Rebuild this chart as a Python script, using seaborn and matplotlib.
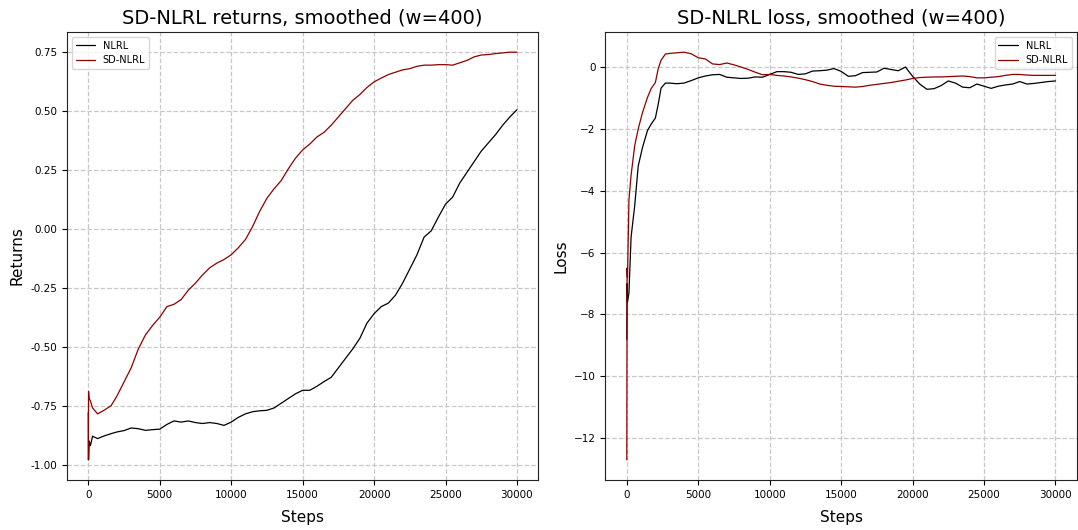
import pandas as pd
import matplotlib
matplotlib.use("Agg")
import matplotlib.pyplot as plt
import seaborn as sns

# steps for the returns panel
steps_ret = [0, 20, 60, 150, 300, 650, 1100, 1600, 2000, 2500, 3000, 3500, 4000, 4500,
             5000, 5500, 6000, 6500, 7000, 7500, 8000, 8500, 9000, 9500, 10000, 10500,
             11000, 11500, 12000, 12500, 13000, 13500, 14000, 14500, 15000, 15500, 16000,
             16500, 17000, 17500, 18000, 18500, 19000, 19500, 20000, 20500, 21000, 21500,
             22000, 22500, 23000, 23500, 24000, 24500, 25000, 25500, 26000, 26500, 27000,
             27500, 28000, 28500, 29000, 29500, 30000]

ret_nlrl = [-0.78, -0.98, -0.90, -0.92, -0.88, -0.89, -0.879, -0.869, -0.862, -0.856, -0.845,
            -0.848, -0.855, -0.852, -0.85, -0.83, -0.815, -0.82, -0.815, -0.822, -0.826,
            -0.822, -0.826, -0.834, -0.82, -0.80, -0.785, -0.776, -0.772, -0.77, -0.76,
            -0.74, -0.72, -0.70, -0.685, -0.685, -0.668, -0.648, -0.63, -0.59, -0.55,
            -0.51, -0.465, -0.40, -0.36, -0.33, -0.315, -0.281, -0.23, -0.17, -0.11,
            -0.035, -0.008, 0.05, 0.105, 0.135, 0.195, 0.24, 0.285, 0.33, 0.365, 0.40,
            0.44, 0.475, 0.506]

ret_sdnlrl = [-0.98, -0.69, -0.72, -0.73, -0.76, -0.785, -0.77, -0.75, -0.71, -0.65, -0.59,
              -0.51, -0.45, -0.41, -0.375, -0.33, -0.32, -0.30, -0.26, -0.23, -0.195,
              -0.165, -0.145, -0.13, -0.11, -0.08, -0.045, 0.01, 0.075, 0.13, 0.17, 0.205,
              0.255, 0.30, 0.335, 0.36, 0.39, 0.41, 0.44, 0.475, 0.51, 0.545, 0.57, 0.60,
              0.624, 0.64, 0.655, 0.665, 0.675, 0.68, 0.69, 0.695, 0.695, 0.697, 0.697,
              0.695, 0.705, 0.715, 0.73, 0.738, 0.74, 0.744, 0.747, 0.75, 0.75]

# steps for the loss panel
steps_loss = [0, 20, 50, 150, 300, 550, 800, 1100, 1450, 1700, 2000, 2200, 2400, 2700,
              3000, 3500, 4000, 4500, 5000, 5500, 6000, 6500, 7000, 7500, 8000, 8500,
              9000, 9500, 10000, 10500, 11000, 11500, 12000, 12500, 13000, 13500, 14000,
              14500, 15000, 15500, 16000, 16500, 17000, 17500, 18000, 18500, 19000, 19500,
              20000, 20500, 21000, 21500, 22000, 22500, 23000, 23500, 24000, 24500, 25000,
              25500, 26000, 26500, 27000, 27500, 28000, 28500, 29000, 29500, 30000]

loss_nlrl = [-8.8, -7.0, -7.6, -7.3, -5.5, -4.5, -3.2, -2.6, -2.05, -1.85, -1.65, -1.2,
             -0.68, -0.52, -0.52, -0.54, -0.52, -0.44, -0.35, -0.29, -0.25, -0.24, -0.33,
             -0.35, -0.37, -0.36, -0.32, -0.33, -0.24, -0.15, -0.15, -0.17, -0.24, -0.22,
             -0.13, -0.12, -0.10, -0.05, -0.14, -0.30, -0.28, -0.18, -0.17, -0.16, -0.04,
             -0.08, -0.12, 0.00, -0.30, -0.55, -0.72, -0.70, -0.60, -0.45, -0.52, -0.65,
             -0.67, -0.55, -0.62, -0.69, -0.62, -0.58, -0.55, -0.47, -0.55, -0.53, -0.50,
             -0.47, -0.45]

loss_sdnlrl = [-12.7, -6.5, -6.8, -4.3, -3.5, -2.55, -2.0, -1.47, -0.98, -0.7, -0.5,
               -0.05, 0.22, 0.42, 0.44, 0.46, 0.48, 0.43, 0.30, 0.26, 0.10, 0.08, 0.13,
               0.07, 0.0, -0.08, -0.17, -0.25, -0.24, -0.27, -0.29, -0.32, -0.36, -0.41,
               -0.47, -0.55, -0.59, -0.62, -0.63, -0.64, -0.65, -0.63, -0.59, -0.56, -0.53,
               -0.50, -0.46, -0.42, -0.37, -0.34, -0.33, -0.32, -0.32, -0.31, -0.30, -0.29,
               -0.31, -0.35, -0.35, -0.33, -0.31, -0.27, -0.24, -0.24, -0.26, -0.27, -0.27,
               -0.27, -0.27]

ret_df = pd.concat([
    pd.DataFrame({"step": steps_ret, "value": ret_nlrl, "model": "NLRL"}),
    pd.DataFrame({"step": steps_ret, "value": ret_sdnlrl, "model": "SD-NLRL"}),
])
loss_df = pd.concat([
    pd.DataFrame({"step": steps_loss, "value": loss_nlrl, "model": "NLRL"}),
    pd.DataFrame({"step": steps_loss, "value": loss_sdnlrl, "model": "SD-NLRL"}),
])

sns.set_style("ticks", {"text.color": "black", "xtick.color": "black",
                        "ytick.color": "black", "axes.labelcolor": "black",
                        "axes.edgecolor": "#222222"})
palette = {"NLRL": "black", "SD-NLRL": "#8c0000"}

fig, axes = plt.subplots(1, 2, figsize=(10.78, 5.3), dpi=100)
plt.subplots_adjust(left=0.062, right=0.999, top=0.94, bottom=0.094, wspace=0.142)

panels = [
    (axes[0], ret_df, "SD-NLRL returns, smoothed (w=400)", "Returns", "upper left"),
    (axes[1], loss_df, "SD-NLRL loss, smoothed (w=400)", "Loss", "upper right"),
]
for ax, df, title, ylabel, loc in panels:
    sns.lineplot(data=df, x="step", y="value", hue="model", palette=palette,
                 linewidth=0.9, ax=ax)
    ax.set_title(title, fontsize=14)
    ax.set_xlabel("Steps", fontsize=11, labelpad=7)
    ax.set_ylabel(ylabel, fontsize=11)
    ax.tick_params(labelsize=7.5, length=3.5)
    ax.grid(True, linestyle="--", color="#c8c8c8", linewidth=0.9)
    ax.legend(loc=loc, fontsize=7, title=None)

axes[0].set_yticks([0.75, 0.5, 0.25, 0.0, -0.25, -0.5, -0.75, -1.0])
axes[0].yaxis.set_major_formatter(plt.FormatStrFormatter("%.2f"))

plt.savefig("out.png")
